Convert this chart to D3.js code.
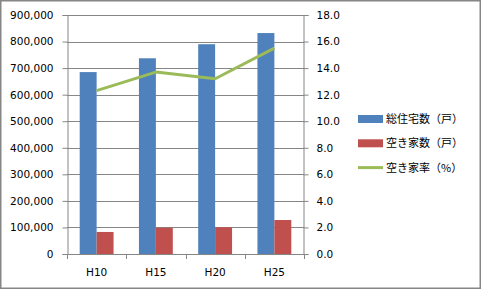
<!DOCTYPE html>
<html>
<meta charset='utf-8'>
<head>
<script src='https://d3js.org/d3.v7.min.js'></script>
<style>
body { margin: 0; background: #fff; }
text { font-family: 'DejaVu Sans', sans-serif; fill: #000; }
.jp { font-family: 'Noto Sans CJK JP', sans-serif; }
</style>
</head>
<body>
<div id='chart'></div>
<script>

var years = ['H10', 'H15', 'H20', 'H25'];
var totalHouses = [685000, 737000, 790000, 832000];
var vacantHouses = [83000, 99000, 100500, 128000];
var vacancyRate = [12.3, 13.7, 13.2, 15.5];
var leftTicks = [0, 100000, 200000, 300000, 400000, 500000, 600000, 700000, 800000, 900000];
var rightTicks = [0, 2, 4, 6, 8, 10, 12, 14, 16, 18];
var seriesNames = ['総住宅数（戸）', '空き家数（戸）', '空き家率（%）'];
var colors = ['#4f81bd', '#c0504d', '#9bbb59'];

var W = 481, H = 289;
var margin = {top: 15, right: 177, bottom: 35, left: 67},
    width = W - margin.left - margin.right,
    height = H - margin.top - margin.bottom;

var svg = d3.select('#chart')
    .append('svg')
    .attr('width', W)
    .attr('height', H);

svg.append('rect')
    .attr('x', 0.75).attr('y', 0.75)
    .attr('width', W - 1.5).attr('height', H - 1.5)
    .attr('fill', '#fff')
    .attr('stroke', '#868686')
    .attr('stroke-width', 1.5);

var g = svg.append('g')
    .attr('transform', 'translate(' + margin.left + ',' + margin.top + ')');

var x = d3.scaleBand()
    .domain(years)
    .range([0, width]);

var x1 = d3.scaleBand()
    .domain([0, 1])
    .range([0, x.bandwidth()])
    .paddingOuter(0.75 / 2 * 2 / 2)
    .paddingInner(0);
// Excel gap width 150%: each bar = band / 3.5
x1.range([x.bandwidth() * 0.75 / 3.5, x.bandwidth() * 2.75 / 3.5]).paddingOuter(0);

var yL = d3.scaleLinear().domain([0, 900000]).range([height, 0]);
var yR = d3.scaleLinear().domain([0, 18]).range([height, 0]);

// gridlines
g.selectAll('.grid')
    .data(leftTicks.slice(1))
    .enter().append('line')
    .attr('x1', 0).attr('x2', width)
    .attr('y1', function(d) { return Math.round(yL(d)) + 0.5; })
    .attr('y2', function(d) { return Math.round(yL(d)) + 0.5; })
    .attr('stroke', '#868686')
    .attr('stroke-width', 1);

// bars
var bars = [totalHouses, vacantHouses];
bars.forEach(function(vals, i) {
    g.selectAll('.bar' + i)
        .data(vals)
        .enter().append('rect')
        .attr('x', function(d, j) { return x(years[j]) + x1(i); })
        .attr('width', x1.bandwidth())
        .attr('y', function(d) { return yL(d); })
        .attr('height', function(d) { return height - yL(d); })
        .attr('fill', colors[i]);
});

// line
g.append('path')
    .datum(vacancyRate)
    .attr('fill', 'none')
    .attr('stroke', colors[2])
    .attr('stroke-width', 3)
    .attr('stroke-linejoin', 'round')
    .attr('d', d3.line()
        .x(function(d, j) { return x(years[j]) + x.bandwidth() / 2; })
        .y(function(d) { return yR(d); }));

// axes
var axisColor = '#868686';
var axL = g.append('g')
    .attr('transform', 'translate(0.5,0)')
    .call(d3.axisLeft(yL).tickValues(leftTicks).tickSize(5).tickPadding(9)
        .tickFormat(d3.format(',')));
var axR = g.append('g')
    .attr('transform', 'translate(' + (width - 0.5) + ',0)')
    .call(d3.axisRight(yR).tickValues(rightTicks).tickSize(5).tickPadding(8)
        .tickFormat(d3.format('.1f')));
var axB = g.append('g')
    .attr('transform', 'translate(0,' + (height + 0.5) + ')')
    .call(d3.axisBottom(x).tickSize(0).tickPadding(14));

// category tick marks at band boundaries
g.selectAll('.xtick')
    .data(years.concat(['end']))
    .enter().append('line')
    .attr('x1', function(d, j) { return Math.round(j * x.step()) + 0.5; })
    .attr('x2', function(d, j) { return Math.round(j * x.step()) + 0.5; })
    .attr('y1', height)
    .attr('y2', height + 5)
    .attr('stroke', axisColor);

[axL, axR, axB].forEach(function(a) {
    a.selectAll('path.domain').attr('stroke', axisColor).attr('stroke-width', 1);
    a.selectAll('.tick line').attr('stroke', axisColor);
    a.selectAll('text')
        .attr('font-family', 'DejaVu Sans, sans-serif')
        .attr('font-size', '10.5px')
        .attr('fill', '#000');
});
axB.select('path.domain').attr('d', 'M0,0H' + width);

// legend
var legend = svg.append('g')
    .attr('transform', 'translate(358,119)');
seriesNames.forEach(function(name, i) {
    var row = legend.append('g').attr('transform', 'translate(0,' + (i * 24.3) + ')');
    if (i < 2) {
        row.append('rect')
            .attr('x', 0).attr('y', -4)
            .attr('width', 25).attr('height', 8)
            .attr('fill', colors[i]);
    } else {
        row.append('line')
            .attr('x1', 0).attr('x2', 25)
            .attr('y1', 0).attr('y2', 0)
            .attr('stroke', colors[i])
            .attr('stroke-width', 3);
    }
    row.append('text')
        .attr('class', 'jp')
        .attr('x', 28)
        .attr('y', 4)
        .attr('font-size', '11px')
        .text(name);
});

</script>
</body>
</html>
